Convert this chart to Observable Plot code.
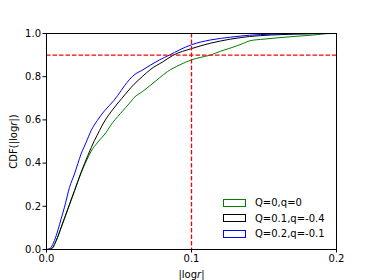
<!DOCTYPE html>
<html>
<head>
<meta charset="utf-8">
<script src="https://cdn.jsdelivr.net/npm/d3@7"></script>
<script src="https://cdn.jsdelivr.net/npm/@observablehq/plot@0.6"></script>
<style>
  html, body { margin: 0; padding: 0; background: #fff; }
  #wrap { position: relative; width: 374px; height: 280px; font-family: "DejaVu Sans", sans-serif; }
  #legend { position: absolute; left: 223px; top: 195px; font-size: 10px; color: #000; }
  .item { display: flex; align-items: center; height: 15.5px; }
  .sw { width: 21px; height: 6px; border: 1px solid; background: #fff; margin-right: 9px; box-sizing: content-box; }
</style>
</head>
<body>
<div id="wrap"><div id="legend"></div></div>
<script>
const xTicks = [0, 0.1, 0.2];
const yTicks = [0, 0.2, 0.4, 0.6, 0.8, 1.0];
const seriesNames = ["Q=0,q=0", "Q=0.1,q=-0.4", "Q=0.2,q=-0.1"];
const seriesColors = ["#008000", "#000000", "#0000ff"];
const refX = [0.1];
const refY = [0.9];

const greenX = [0, 0.0035, 0.0067, 0.0101, 0.0147, 0.0193, 0.0239, 0.0275, 0.0308, 0.0354, 0.0412, 0.044, 0.051, 0.058, 0.0604, 0.066, 0.072, 0.078, 0.0835, 0.092, 0.1, 0.106, 0.113, 0.12, 0.127, 0.136, 0.14, 0.15, 0.161, 0.172, 0.184, 0.195, 0.2];
const greenY = [0, 0.003, 0.04, 0.10, 0.185, 0.27, 0.355, 0.41, 0.455, 0.497, 0.543, 0.572, 0.63, 0.683, 0.703, 0.73, 0.762, 0.795, 0.824, 0.855, 0.878, 0.889, 0.90, 0.918, 0.933, 0.955, 0.966, 0.974, 0.981, 0.987, 0.993, 1.0, 1.0];

const blackX = [0, 0.0032, 0.0067, 0.0101, 0.0147, 0.0193, 0.0239, 0.0285, 0.0331, 0.0366, 0.0397, 0.0465, 0.052, 0.0604, 0.066, 0.072, 0.08, 0.0875, 0.1, 0.113, 0.127, 0.14, 0.155, 0.17, 0.185, 0.2];
const blackY = [0, 0.003, 0.042, 0.103, 0.188, 0.273, 0.358, 0.435, 0.505, 0.551, 0.59, 0.655, 0.70, 0.765, 0.80, 0.835, 0.868, 0.90, 0.93, 0.955, 0.974, 0.986, 0.993, 0.997, 0.999, 1.0];

const blueX = [0, 0.002, 0.0055, 0.0078, 0.0101, 0.0124, 0.0159, 0.0193, 0.0239, 0.0274, 0.0308, 0.035, 0.04, 0.0465, 0.049, 0.054, 0.0604, 0.066, 0.072, 0.078, 0.0847, 0.092, 0.1, 0.113, 0.127, 0.14, 0.155, 0.17, 0.185, 0.2];
const blueY = [0, 0.003, 0.042, 0.088, 0.142, 0.196, 0.288, 0.35, 0.443, 0.497, 0.551, 0.597, 0.642, 0.69, 0.712, 0.76, 0.808, 0.83, 0.855, 0.878, 0.90, 0.925, 0.948, 0.97, 0.983, 0.992, 0.997, 0.999, 1.0, 1.0];

const seriesData = [
  {name: seriesNames[0], color: seriesColors[0], xs: greenX, ys: greenY},
  {name: seriesNames[1], color: seriesColors[1], xs: blackX, ys: blackY},
  {name: seriesNames[2], color: seriesColors[2], xs: blueX, ys: blueY}
];

const lineMarks = seriesData.map(s =>
  Plot.line(s.xs.map((x, i) => ({x, y: s.ys[i]})), {x: "x", y: "y", stroke: s.color, strokeWidth: 1, curve: "monotone-x"})
);

const chart = Plot.plot({
  width: 374,
  height: 280,
  marginLeft: 46,
  marginRight: 38,
  marginTop: 33,
  marginBottom: 31,
  style: {fontFamily: "DejaVu Sans, sans-serif", fontSize: "10px", background: "white", color: "black"},
  x: {domain: [0, 0.2]},
  y: {domain: [0, 1]},
  marks: [
    ...lineMarks,
    Plot.ruleX(refX, {stroke: "#ff0000", strokeWidth: 1.3, strokeDasharray: "4.5,2"}),
    Plot.ruleY(refY, {stroke: "#ff0000", strokeWidth: 1.3, strokeDasharray: "4.5,2"}),
    Plot.frame({stroke: "#000", strokeWidth: 1}),
    Plot.axisX({ticks: xTicks, tickFormat: d3.format(".1f"), tickSize: 3.5, tickPadding: 2, label: "|logr|", labelAnchor: "center", labelArrow: "none", labelOffset: 28}),
    Plot.axisY({ticks: yTicks, tickFormat: d3.format(".1f"), tickSize: 3.5, tickPadding: 2, label: "CDF(|logr|)", labelAnchor: "center", labelArrow: "none", labelOffset: 37})
  ]
});

// italic r in axis labels
chart.querySelectorAll('g[aria-label$="axis label"] text').forEach(t => {
  const s = t.textContent;
  const i = s.indexOf("logr");
  if (i >= 0) {
    t.textContent = "";
    const a = document.createElementNS("http://www.w3.org/2000/svg", "tspan");
    a.textContent = s.slice(0, i + 3);
    const b = document.createElementNS("http://www.w3.org/2000/svg", "tspan");
    b.textContent = "r";
    b.setAttribute("font-style", "italic");
    const c = document.createElementNS("http://www.w3.org/2000/svg", "tspan");
    c.textContent = s.slice(i + 4);
    t.append(a, b, c);
  }
});

const wrap = document.getElementById("wrap");
wrap.insertBefore(chart, wrap.firstChild);
const legend = document.getElementById("legend");
seriesData.forEach(s => {
  const item = document.createElement("div");
  item.className = "item";
  const sw = document.createElement("span");
  sw.className = "sw";
  sw.style.borderColor = s.color;
  const tx = document.createElement("span");
  tx.textContent = s.name;
  item.append(sw, tx);
  legend.append(item);
});
</script>
</body>
</html>
